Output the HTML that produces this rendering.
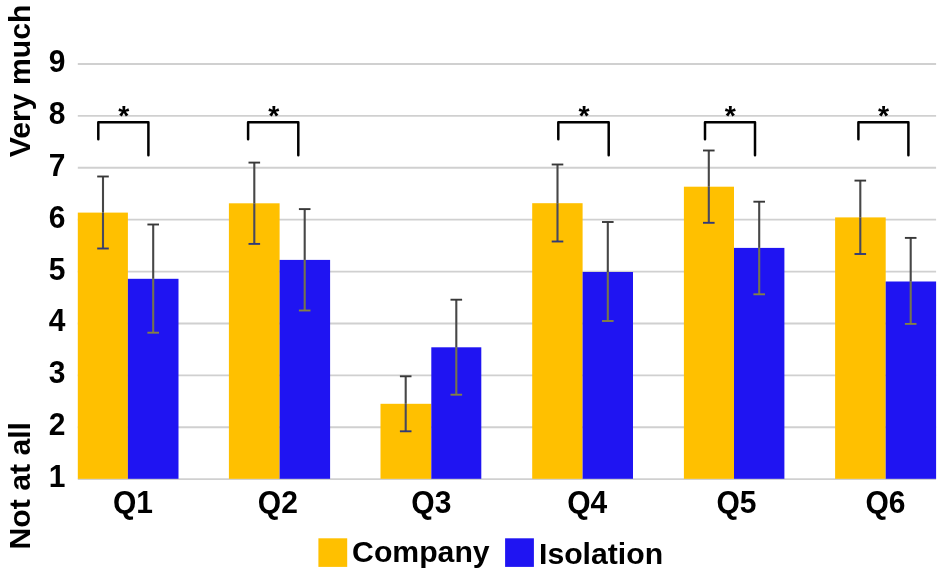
<!DOCTYPE html>
<html lang="en"><head><meta charset="utf-8"><title>Chart</title>
<style>
html,body{margin:0;padding:0;background:#fff;}
body{width:945px;height:577px;overflow:hidden;}
svg{display:block;}
text{font-family:"Liberation Sans",Arial,Helvetica,sans-serif;font-weight:700;fill:#000;}
</style></head><body>
<svg width="945" height="577" viewBox="0 0 945 577">
<rect width="945" height="577" fill="#fff"/>
<g stroke="#D0D0D0" stroke-width="1.85">
<line x1="77.8" x2="936.1" y1="64.00" y2="64.00"/>
<line x1="77.8" x2="936.1" y1="115.89" y2="115.89"/>
<line x1="77.8" x2="936.1" y1="167.78" y2="167.78"/>
<line x1="77.8" x2="936.1" y1="219.67" y2="219.67"/>
<line x1="77.8" x2="936.1" y1="271.56" y2="271.56"/>
<line x1="77.8" x2="936.1" y1="323.45" y2="323.45"/>
<line x1="77.8" x2="936.1" y1="375.34" y2="375.34"/>
<line x1="77.8" x2="936.1" y1="427.23" y2="427.23"/>
<line x1="77.8" x2="936.1" y1="479.12" y2="479.12"/>
</g>
<rect x="77.8" y="212.6" width="50.1" height="266.2" fill="#FFC000"/>
<rect x="127.9" y="278.8" width="50.6" height="200.0" fill="#1F14F2"/>
<rect x="228.9" y="203.3" width="50.7" height="275.5" fill="#FFC000"/>
<rect x="279.6" y="259.9" width="50.5" height="218.9" fill="#1F14F2"/>
<rect x="380.5" y="403.8" width="50.8" height="75.0" fill="#FFC000"/>
<rect x="431.3" y="347.3" width="50.0" height="131.5" fill="#1F14F2"/>
<rect x="532.2" y="203.2" width="50.4" height="275.6" fill="#FFC000"/>
<rect x="582.6" y="272.0" width="50.4" height="206.8" fill="#1F14F2"/>
<rect x="683.9" y="186.7" width="50.1" height="292.1" fill="#FFC000"/>
<rect x="734.0" y="247.9" width="50.4" height="230.9" fill="#1F14F2"/>
<rect x="835.1" y="217.4" width="50.6" height="261.4" fill="#FFC000"/>
<rect x="885.7" y="281.5" width="50.4" height="197.3" fill="#1F14F2"/>
<g fill="none">
<path stroke="#474747" stroke-width="2.1" d="M103.0 176.5V212.6"/>
<path stroke="#49495c" stroke-width="2.1" d="M103.0 212.6V248.5"/>
<path stroke="#383838" stroke-width="1.9" d="M97.2 176.5H108.8"/>
<path stroke="#303a78" stroke-width="1.9" d="M97.2 248.5H108.8"/>
<path stroke="#474747" stroke-width="2.1" d="M153.2 224.5V278.8"/>
<path stroke="#75734e" stroke-width="2.1" d="M153.2 278.8V332.7"/>
<path stroke="#383838" stroke-width="1.9" d="M147.4 224.5H159.0"/>
<path stroke="#858145" stroke-width="1.9" d="M147.4 332.7H159.0"/>
<path stroke="#474747" stroke-width="2.1" d="M254.3 162.6V203.3"/>
<path stroke="#49495c" stroke-width="2.1" d="M254.3 203.3V243.9"/>
<path stroke="#383838" stroke-width="1.9" d="M248.5 162.6H260.1"/>
<path stroke="#303a78" stroke-width="1.9" d="M248.5 243.9H260.1"/>
<path stroke="#474747" stroke-width="2.1" d="M304.7 209.1V259.9"/>
<path stroke="#75734e" stroke-width="2.1" d="M304.7 259.9V310.5"/>
<path stroke="#383838" stroke-width="1.9" d="M298.9 209.1H310.5"/>
<path stroke="#858145" stroke-width="1.9" d="M298.9 310.5H310.5"/>
<path stroke="#474747" stroke-width="2.1" d="M405.7 376.3V403.8"/>
<path stroke="#49495c" stroke-width="2.1" d="M405.7 403.8V431.3"/>
<path stroke="#383838" stroke-width="1.9" d="M399.9 376.3H411.5"/>
<path stroke="#303a78" stroke-width="1.9" d="M399.9 431.3H411.5"/>
<path stroke="#474747" stroke-width="2.1" d="M456.3 299.7V347.3"/>
<path stroke="#75734e" stroke-width="2.1" d="M456.3 347.3V394.7"/>
<path stroke="#383838" stroke-width="1.9" d="M450.5 299.7H462.1"/>
<path stroke="#858145" stroke-width="1.9" d="M450.5 394.7H462.1"/>
<path stroke="#474747" stroke-width="2.1" d="M557.5 164.5V203.2"/>
<path stroke="#49495c" stroke-width="2.1" d="M557.5 203.2V241.5"/>
<path stroke="#383838" stroke-width="1.9" d="M551.7 164.5H563.3"/>
<path stroke="#303a78" stroke-width="1.9" d="M551.7 241.5H563.3"/>
<path stroke="#474747" stroke-width="2.1" d="M607.8 222.0V272.0"/>
<path stroke="#75734e" stroke-width="2.1" d="M607.8 272.0V321.0"/>
<path stroke="#383838" stroke-width="1.9" d="M602.0 222.0H613.6"/>
<path stroke="#858145" stroke-width="1.9" d="M602.0 321.0H613.6"/>
<path stroke="#474747" stroke-width="2.1" d="M708.8 150.5V186.7"/>
<path stroke="#49495c" stroke-width="2.1" d="M708.8 186.7V222.8"/>
<path stroke="#383838" stroke-width="1.9" d="M703.0 150.5H714.6"/>
<path stroke="#303a78" stroke-width="1.9" d="M703.0 222.8H714.6"/>
<path stroke="#474747" stroke-width="2.1" d="M759.2 201.7V247.9"/>
<path stroke="#75734e" stroke-width="2.1" d="M759.2 247.9V294.3"/>
<path stroke="#383838" stroke-width="1.9" d="M753.4 201.7H765.0"/>
<path stroke="#858145" stroke-width="1.9" d="M753.4 294.3H765.0"/>
<path stroke="#474747" stroke-width="2.1" d="M860.3 180.6V217.4"/>
<path stroke="#49495c" stroke-width="2.1" d="M860.3 217.4V254.0"/>
<path stroke="#383838" stroke-width="1.9" d="M854.5 180.6H866.1"/>
<path stroke="#303a78" stroke-width="1.9" d="M854.5 254.0H866.1"/>
<path stroke="#474747" stroke-width="2.1" d="M910.7 237.9V281.5"/>
<path stroke="#75734e" stroke-width="2.1" d="M910.7 281.5V323.9"/>
<path stroke="#383838" stroke-width="1.9" d="M904.9 237.9H916.5"/>
<path stroke="#858145" stroke-width="1.9" d="M904.9 323.9H916.5"/>
</g>
<g stroke="#000" stroke-width="2.5" fill="none" stroke-linecap="round" stroke-linejoin="round">
<path d="M98.3 139.2V122.3H148.4V155.2"/>
<path d="M248.1 139.2V122.3H298.3V155.2"/>
<path d="M558.3 139.2V122.3H608.7V155.2"/>
<path d="M705.0 139.2V122.3H755.0V155.2"/>
<path d="M858.4 139.2V122.3H908.4V155.2"/>
</g>
<text x="123.7" y="125.1" font-size="28.5" text-anchor="middle">*</text>
<text x="273.7" y="125.1" font-size="28.5" text-anchor="middle">*</text>
<text x="584.0" y="125.1" font-size="28.5" text-anchor="middle">*</text>
<text x="730.4" y="125.1" font-size="28.5" text-anchor="middle">*</text>
<text x="883.5" y="125.1" font-size="28.5" text-anchor="middle">*</text>
<text transform="translate(65.5,72.0) scale(1,1.07)" font-size="30" text-anchor="end">9</text>
<text transform="translate(65.5,123.9) scale(1,1.07)" font-size="30" text-anchor="end">8</text>
<text transform="translate(65.5,175.8) scale(1,1.07)" font-size="30" text-anchor="end">7</text>
<text transform="translate(65.5,227.7) scale(1,1.07)" font-size="30" text-anchor="end">6</text>
<text transform="translate(65.5,279.6) scale(1,1.07)" font-size="30" text-anchor="end">5</text>
<text transform="translate(65.5,331.4) scale(1,1.07)" font-size="30" text-anchor="end">4</text>
<text transform="translate(65.5,383.3) scale(1,1.07)" font-size="30" text-anchor="end">3</text>
<text transform="translate(65.5,435.2) scale(1,1.07)" font-size="30" text-anchor="end">2</text>
<text transform="translate(65.5,487.1) scale(1,1.07)" font-size="30" text-anchor="end">1</text>
<text transform="translate(132.9,512.7) scale(1,1.07)" font-size="30" text-anchor="middle">Q1</text>
<text transform="translate(277.8,512.7) scale(1,1.07)" font-size="30" text-anchor="middle">Q2</text>
<text transform="translate(431.3,512.7) scale(1,1.07)" font-size="30" text-anchor="middle">Q3</text>
<text transform="translate(587.2,512.7) scale(1,1.07)" font-size="30" text-anchor="middle">Q4</text>
<text transform="translate(736.5,512.7) scale(1,1.07)" font-size="30" text-anchor="middle">Q5</text>
<text transform="translate(885.4,512.7) scale(1,1.07)" font-size="30" text-anchor="middle">Q6</text>
<text transform="translate(29.6,157.2) rotate(-90)" font-size="30.2">Very much</text>
<text transform="translate(30,549.5) rotate(-90)" font-size="30.2">Not at all</text>
<rect x="318.4" y="538.3" width="28.8" height="28.6" fill="#FFC000"/>
<text x="352.1" y="562.4" font-size="30.2">Company</text>
<rect x="505.1" y="538.3" width="28.8" height="28.6" fill="#1F14F2"/>
<text x="539" y="564.2" font-size="30.2">Isolation</text>
</svg></body></html>
